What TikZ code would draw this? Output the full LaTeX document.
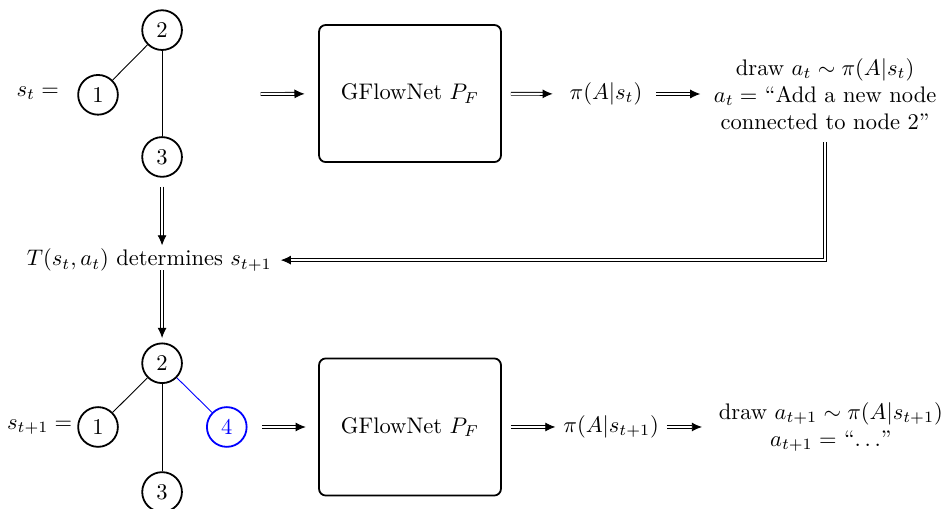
\documentclass[tikz,border=0pt]{standalone}
\usepackage{amsmath}
\usetikzlibrary{arrows.meta}

\begin{document}
\begin{tikzpicture}[
    vertex/.style = {circle, draw, thick, minimum size = 0.62cm, inner sep = 0pt},
    netbox/.style = {draw, thick, rounded corners = 3pt, minimum width = 2.84cm, minimum height = 2.14cm},
    flow/.style = {double, double distance = 0.9pt, -{Latex[length = 4.5pt, width = 4pt]}}
  ]
    \useasboundingbox (0,0) rectangle (14.72,-7.93);
    % state s_t
    \node (t2) at (2.53,-0.47) [vertex] {2};
    \node (t1) at (1.53,-1.48) [vertex] {1};
    \node (t3) at (2.53,-2.45) [vertex] {3};
    \draw (t1) -- (t2);
    \draw (t2) -- (t3);
    \node (scur) at (0.59,-1.45) {$s_t =$};
    \coordinate (g1) at (4.07,-1.467);
    \node (net1) at (6.40,-1.46) [netbox] {GFlowNet $P_F$};
    \node (pi1) at (9.46,-1.467) {$\pi(A|s_t)$};
    \node (act1) at (12.88,-1.467) [align = center] {draw $a_t \sim \pi(A|s_t)$\\ $a_t =$ ``Add a new node\\ connected to node 2''};
    \draw [flow, shorten > = 6pt] (g1) -- (net1);
    \draw [flow, shorten < = 4pt, shorten > = 4pt] (net1) -- (pi1);
    \draw [flow, shorten < = 2.5pt, shorten > = 2.5pt] (pi1) -- (act1);
    % transition
    \node (trans) at (2.33,-4.06) {$T(s_t, a_t)$ determines $s_{t+1}$};
    \draw [flow, shorten < = 2pt, shorten > = 0.5pt] (act1.south) |- (trans.east);
    \draw [flow, shorten < = 4pt, shorten > = -2pt] (t3) -- (t3 |- trans.north);
    % state s_{t+1}
    \node (b2) at (2.53,-5.67) [vertex] {2};
    \node (b1) at (1.53,-6.665) [vertex] {1};
    \node (b4) at (3.54,-6.665) [vertex, blue] {4};
    \node (b3) at (2.53,-7.68) [vertex] {3};
    \draw (b1) -- (b2);
    \draw (b2) -- (b3);
    \draw [blue] (b2) -- (b4);
    \draw [flow, shorten < = -4pt, shorten > = 2pt] (b2 |- trans.south) -- (b2);
    \node (snext) at (0.62,-6.665) {$s_{t+1} =$};
    \coordinate (g2) at (4.09,-6.665);
    \node (net2) at (6.40,-6.665) [netbox] {GFlowNet $P_F$};
    \node (pi2) at (9.54,-6.665) {$\pi(A|s_{t+1})$};
    \node (act2) at (12.97,-6.665) [align = center] {draw $a_{t+1} \sim \pi(A|s_{t+1})$\\ $a_{t+1} =$ ``$\ldots$''};
    \draw [flow, shorten > = 5.5pt] (g2) -- (net2);
    \draw [flow, shorten < = 4pt] (net2) -- (pi2);
    \draw [flow, shorten > = 4pt] (pi2) -- (act2);
\end{tikzpicture}
\end{document}
